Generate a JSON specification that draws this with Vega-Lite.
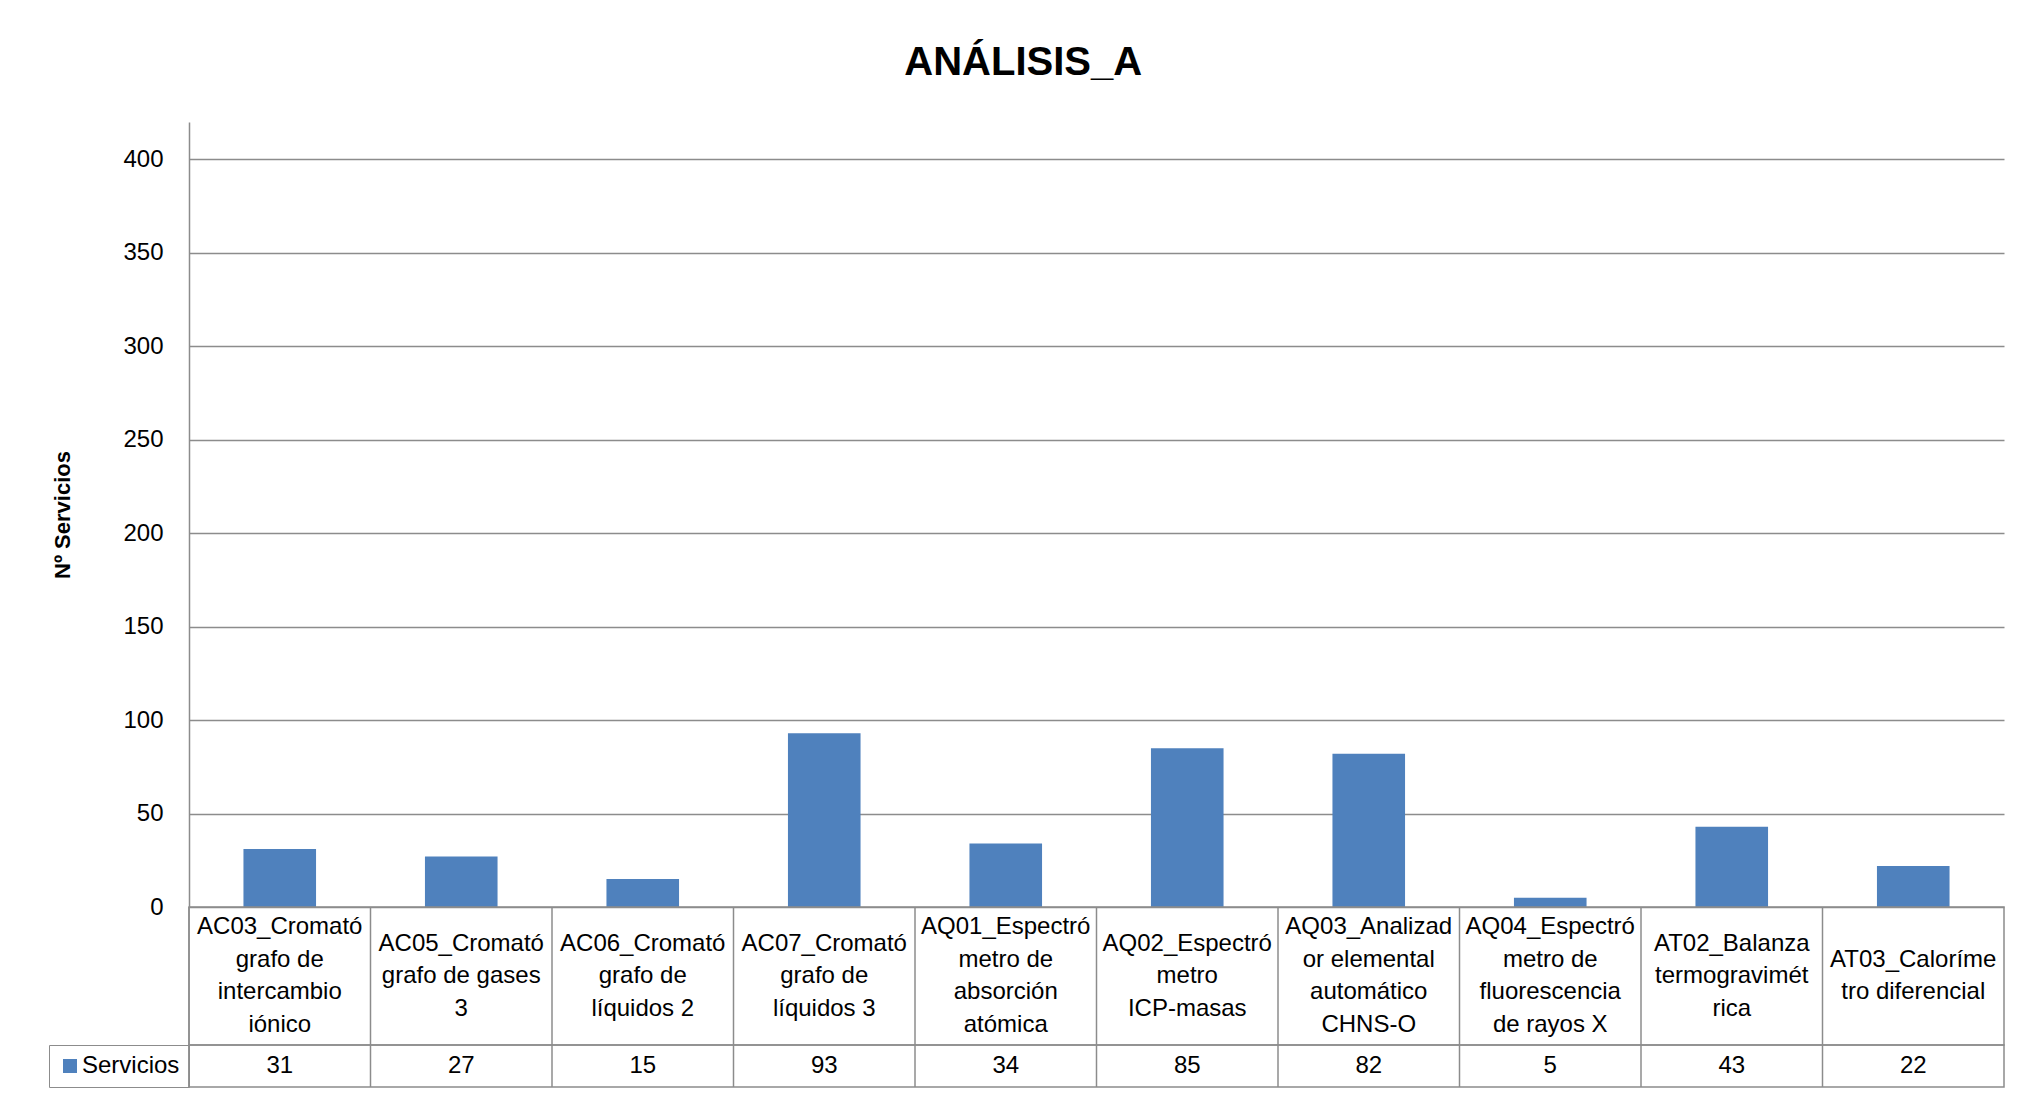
{
  "$schema": "https://vega.github.io/schema/vega-lite/v6.json",
  "background": "white",
  "autosize": {"type": "pad"},
  "padding": {"left": 47, "top": 43, "right": 10, "bottom": 5},
  "title": {"text": "ANÁLISIS_A", "font": "Liberation Sans", "fontSize": 40, "fontWeight": "bold", "color": "black", "anchor": "middle", "offset": 39, "dx": -3},
  "spacing": 0,
  "bounds": "flush",
  "resolve": {"legend": {"color": "independent"}},
  "config": {"font": "Liberation Sans", "view": {"stroke": null}},
  "datasets": {
    "equipos": [
      {"equipo": "AC03_Cromatógrafo de intercambio iónico", "etiqueta": "AC03_Cromató\ngrafo de\nintercambio\niónico", "servicios": 31, "serie": "Servicios"},
      {"equipo": "AC05_Cromatógrafo de gases 3", "etiqueta": "AC05_Cromató\ngrafo de gases\n3", "servicios": 27, "serie": "Servicios"},
      {"equipo": "AC06_Cromatógrafo de líquidos 2", "etiqueta": "AC06_Cromató\ngrafo de\nlíquidos 2", "servicios": 15, "serie": "Servicios"},
      {"equipo": "AC07_Cromatógrafo de líquidos 3", "etiqueta": "AC07_Cromató\ngrafo de\nlíquidos 3", "servicios": 93, "serie": "Servicios"},
      {"equipo": "AQ01_Espectrómetro de absorción atómica", "etiqueta": "AQ01_Espectró\nmetro de\nabsorción\natómica", "servicios": 34, "serie": "Servicios"},
      {"equipo": "AQ02_Espectrómetro ICP-masas", "etiqueta": "AQ02_Espectró\nmetro\nICP-masas", "servicios": 85, "serie": "Servicios"},
      {"equipo": "AQ03_Analizador elemental automático CHNS-O", "etiqueta": "AQ03_Analizad\nor elemental\nautomático\nCHNS-O", "servicios": 82, "serie": "Servicios"},
      {"equipo": "AQ04_Espectrómetro de fluorescencia de rayos X", "etiqueta": "AQ04_Espectró\nmetro de\nfluorescencia\nde rayos X", "servicios": 5, "serie": "Servicios"},
      {"equipo": "AT02_Balanza termogravimétrica", "etiqueta": "AT02_Balanza\ntermogravimét\nrica", "servicios": 43, "serie": "Servicios"},
      {"equipo": "AT03_Calorímetro diferencial", "etiqueta": "AT03_Caloríme\ntro diferencial", "servicios": 22, "serie": "Servicios"}
    ]
  },
  "vconcat": [
    {
      "width": 1815,
      "height": 785,
      "data": {"name": "equipos"},
      "view": {"stroke": null},
      "mark": {"type": "bar", "color": "#4f81bd", "width": {"band": 0.4}},
      "encoding": {
        "x": {"field": "equipo", "type": "nominal", "sort": null, "scale": {"paddingInner": 0, "paddingOuter": 0}, "axis": null},
        "y": {
          "field": "servicios", "type": "quantitative",
          "scale": {"domain": [0, 420], "nice": false},
          "axis": {
            "values": [0, 50, 100, 150, 200, 250, 300, 350, 400],
            "title": "Nº Servicios",
            "titleFont": "Liberation Sans", "titleFontSize": 22, "titleFontWeight": "bold", "titleColor": "black", "titlePadding": 48,
            "labelFont": "Liberation Sans", "labelFontSize": 24, "labelColor": "black", "labelPadding": 26,
            "ticks": false, "tickSize": 0,
            "domainColor": "#8c8c8c", "domainWidth": 1.5,
            "grid": true, "gridColor": "#8c8c8c", "gridWidth": 1.5
          }
        }
      }
    },
    {
      "width": 1815,
      "height": 138,
      "data": {"name": "equipos"},
      "view": {"stroke": "#8c8c8c", "strokeWidth": 1.5},
      "layer": [
        {
          "mark": {"type": "rule", "color": "#8c8c8c", "strokeWidth": 1.5},
          "encoding": {
            "x": {"field": "equipo", "type": "nominal", "sort": null, "bandPosition": 0, "scale": {"paddingInner": 0, "paddingOuter": 0}, "axis": null}
          }
        },
        {
          "transform": [{"filter": "length(split(datum.etiqueta, '\\n')) == 4"}],
          "mark": {"type": "text", "font": "Liberation Sans", "fontSize": 24, "color": "black", "lineBreak": "\n", "lineHeight": 32.5, "baseline": "middle", "align": "center", "dy": -48.75},
          "encoding": {
            "x": {"field": "equipo", "type": "nominal", "sort": null, "scale": {"paddingInner": 0, "paddingOuter": 0}, "axis": null},
            "text": {"field": "etiqueta", "type": "nominal"}
          }
        },
        {
          "transform": [{"filter": "length(split(datum.etiqueta, '\\n')) == 3"}],
          "mark": {"type": "text", "font": "Liberation Sans", "fontSize": 24, "color": "black", "lineBreak": "\n", "lineHeight": 32.5, "baseline": "middle", "align": "center", "dy": -32.5},
          "encoding": {
            "x": {"field": "equipo", "type": "nominal", "sort": null, "scale": {"paddingInner": 0, "paddingOuter": 0}, "axis": null},
            "text": {"field": "etiqueta", "type": "nominal"}
          }
        },
        {
          "transform": [{"filter": "length(split(datum.etiqueta, '\\n')) == 2"}],
          "mark": {"type": "text", "font": "Liberation Sans", "fontSize": 24, "color": "black", "lineBreak": "\n", "lineHeight": 32.5, "baseline": "middle", "align": "center", "dy": -16.25},
          "encoding": {
            "x": {"field": "equipo", "type": "nominal", "sort": null, "scale": {"paddingInner": 0, "paddingOuter": 0}, "axis": null},
            "text": {"field": "etiqueta", "type": "nominal"}
          }
        }
      ]
    },
    {
      "width": 1815,
      "height": 42,
      "data": {"name": "equipos"},
      "view": {"stroke": "#8c8c8c", "strokeWidth": 1.5},
      "layer": [
        {
          "mark": {"type": "rule", "color": "#8c8c8c", "strokeWidth": 1.5},
          "encoding": {
            "x": {"field": "equipo", "type": "nominal", "sort": null, "bandPosition": 0, "scale": {"paddingInner": 0, "paddingOuter": 0}, "axis": null}
          }
        },
        {
          "mark": {"type": "text", "font": "Liberation Sans", "fontSize": 24, "color": "black", "baseline": "middle", "align": "center"},
          "encoding": {
            "x": {"field": "equipo", "type": "nominal", "sort": null, "scale": {"paddingInner": 0, "paddingOuter": 0}, "axis": null},
            "text": {"field": "servicios", "type": "quantitative"}
          }
        },
        {
          "mark": {"type": "square", "opacity": 0},
          "encoding": {
            "x": {"field": "equipo", "type": "nominal", "sort": null, "scale": {"paddingInner": 0, "paddingOuter": 0}, "axis": null},
            "color": {
              "field": "serie", "type": "nominal",
              "scale": {"range": ["#4f81bd"]},
              "legend": {
                "orient": "left", "offset": 0, "title": null, "padding": 9,
                "strokeColor": "#8c8c8c",
                "symbolType": "square", "symbolSize": 196, "symbolOpacity": 1, "symbolStrokeWidth": 0,
                "labelFont": "Liberation Sans", "labelFontSize": 24, "labelColor": "black", "labelOffset": 0, "labelLimit": 300
              }
            }
          }
        }
      ]
    }
  ]
}
